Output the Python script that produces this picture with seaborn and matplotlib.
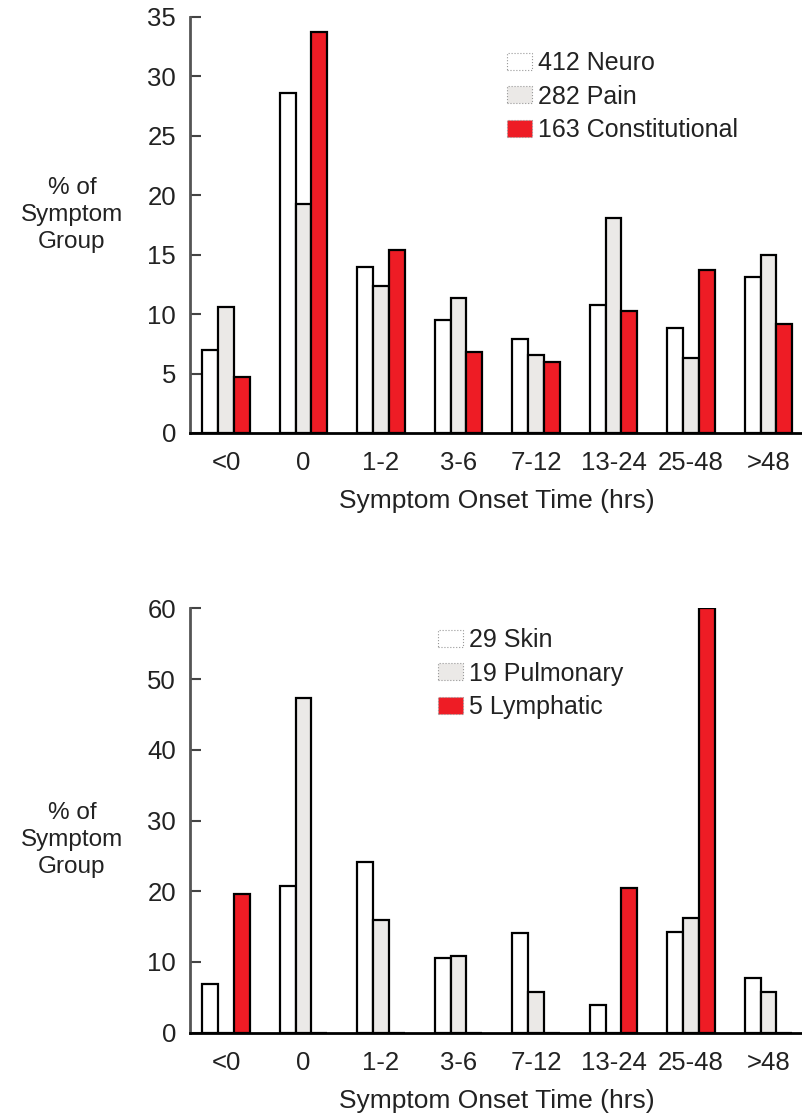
import numpy as np
import pandas as pd
import matplotlib
matplotlib.use("Agg")
import matplotlib.pyplot as plt
import seaborn as sns

# Onset-time categories shared by both panels
onset = ["<0", "0", "1-2", "3-6", "7-12", "13-24", "25-48", ">48"]

# Upper panel: percent of each symptom group by onset time
top_groups = ["412 Neuro", "282 Pain", "163 Constitutional"]
neuro = [7.0, 28.6, 14.0, 9.5, 7.9, 10.8, 8.8, 13.1]
pain = [10.6, 19.3, 12.4, 11.4, 6.6, 18.1, 6.3, 15.0]
constitutional = [4.7, 33.7, 15.4, 6.8, 6.0, 10.3, 13.7, 9.2]

# Lower panel
bottom_groups = ["29 Skin", "19 Pulmonary", "5 Lymphatic"]
skin = [6.9, 20.7, 24.2, 10.5, 14.1, 3.9, 14.3, 7.7]
pulmonary = [0.0, 47.3, 15.9, 10.8, 5.8, 0.0, 16.2, 5.8]
lymphatic = [19.6, 0.0, 0.0, 0.0, 0.0, 20.4, 60.0, 0.0]

colors = ["#ffffff", "#ebe9e7", "#ee1c25"]

sns.set_theme(style="white")
plt.rcParams["font.family"] = ["Liberation Sans", "DejaVu Sans"]
TICK_FS = 18.5
XLAB_FS = 19
LEG_FS = 18
YLAB_FS = 17.5
TEXT = "#222222"


def long_frame(groups, series):
    rows = []
    for g, vals in zip(groups, series):
        for cat, v in zip(onset, vals):
            rows.append({"onset": cat, "group": g, "pct": v})
    return pd.DataFrame(rows)


def panel(fig, rect, groups, series, ymax, ystep, legend_anchor, ylab_y):
    ax = fig.add_axes(rect)
    df = long_frame(groups, series)
    sns.barplot(data=df, x="onset", y="pct", hue="group", order=onset,
                hue_order=groups, palette=colors, saturation=1,
                edgecolor="black", linewidth=1.6, width=0.61, ax=ax,
                errorbar=None)
    ax.set_xlim(-0.465, 7.445)
    ax.set_ylim(0, ymax)
    ax.set_yticks(np.arange(0, ymax + 0.1, ystep))
    ax.tick_params(axis="y", direction="in", length=8, width=1.5,
                   color="#444444", pad=10, labelsize=TICK_FS,
                   labelcolor=TEXT, left=True)
    ax.tick_params(axis="x", length=0, pad=13, labelsize=TICK_FS,
                   labelcolor=TEXT)
    for s in ["top", "right"]:
        ax.spines[s].set_visible(False)
    ax.spines["left"].set_color("#555555")
    ax.spines["left"].set_linewidth(2)
    ax.spines["bottom"].set_color("black")
    ax.spines["bottom"].set_linewidth(2)
    ax.set_ylabel("")
    ax.set_xlabel("Symptom Onset Time (hrs)", fontsize=XLAB_FS, color=TEXT,
                  labelpad=10)
    handles, labels = ax.get_legend_handles_labels()
    ax.legend(handles, labels, loc="upper left", bbox_to_anchor=legend_anchor,
              bbox_transform=fig.transFigure, frameon=False, fontsize=LEG_FS,
              handlelength=1.0, handleheight=0.68, handletextpad=0.25,
              labelspacing=0.38, borderaxespad=0, borderpad=0)
    leg = ax.get_legend()
    for h in leg.legend_handles:
        h.set_edgecolor("#999999")
        h.set_linewidth(0.8)
        h.set_linestyle(":")
    for t in leg.get_texts():
        t.set_color(TEXT)
    fig.text(72 / 803, ylab_y, "% of\nSymptom\nGroup", ha="center",
             va="center", fontsize=YLAB_FS, color=TEXT, linespacing=1.28)
    return ax


fig = plt.figure(figsize=(8.03, 11.18), dpi=100)
fig.patch.set_facecolor("white")

panel(fig, [190 / 803, 685 / 1118, 613 / 803, 416 / 1118], top_groups,
      [neuro, pain, constitutional], 35, 5,
      (507 / 803, 1 - 51 / 1118), 1 - 215 / 1118)
panel(fig, [190 / 803, 85.3 / 1118, 613 / 803, 424.4 / 1118], bottom_groups,
      [skin, pulmonary, lymphatic], 60, 10,
      (438 / 803, 1 - 628 / 1118), 1 - 840 / 1118)

fig.savefig("out.png", dpi=100, facecolor="white")
